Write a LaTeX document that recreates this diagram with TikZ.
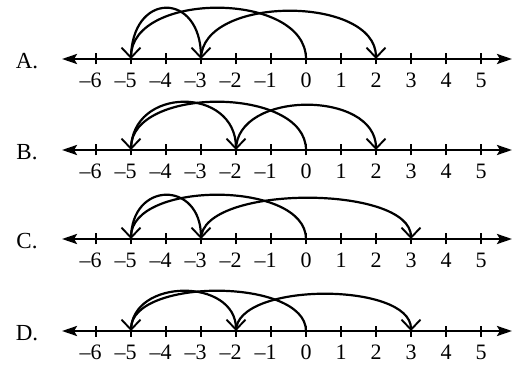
\documentclass[tikz,border=0pt]{standalone}
\usepackage{fontspec}
\setmainfont{Liberation Serif}
\usetikzlibrary{arrows.meta, calc}

\begin{document}
\begin{tikzpicture}[
    x=1pt, y=1pt,
    axis/.style={line width=2.6pt, {Stealth[length=15pt, width=10pt, inset=3pt]}-{Stealth[length=15pt, width=10pt, inset=3pt]}},
    tick/.style={line width=1.6pt},
    num/.style={font=\fontsize{22}{22}\selectfont, inner sep=0pt},
    opt/.style={font=\fontsize{23}{23}\selectfont, inner sep=0pt},
    jump/.style={line width=2.2pt, -{Straight Barb[length=10pt, width=19pt, line width=1.9pt]}},
]
    \useasboundingbox (0,0) rectangle (516,372);
    % one number line per option: row, axis height, 2nd and 3rd landing, arc height
    \foreach \r/\y/\p/\q/\h in {A/313/-3/2/51, B/222/-2/2/48, C/133/-3/3/44, D/41/-2/3/40} {
        \node[opt] (\r lab) at (27,\y-2) {\r.};
        \coordinate (\r L) at (62,\y);
        \coordinate (\r R) at (512,\y);
        \draw[axis] (\r L) -- (\r R);
        \foreach \n in {-6,...,5} {
            \coordinate (\r\n) at (306+35*\n,\y);
            \draw[tick] ([yshift=-5.5pt]\r\n) -- ([yshift=5.5pt]\r\n);
        }
        \foreach \n [evaluate=\n as \m using int(-\n)] in {-6,...,-1}
            \node[num] (\r\n num) at ([yshift=-21pt]\r\n) {\llap{\textendash}\m};
        \foreach \n in {0,...,5}
            \node[num] (\r\n num) at ([yshift=-21pt]\r\n) {\n};
        % the three jumps
        \draw[jump] (\r0) .. controls +(0,{\h*4/3}) and +(0,{\h*4/3}) .. (\r-5);
        \draw[jump] (\r-5) .. controls +(0,{\h*4/3}) and +(0,{\h*4/3}) .. (\r\p);
        \draw[jump] (\r\p) .. controls +(0,{(\h-3)*4/3}) and +(0,{(\h-3)*4/3}) .. (\r\q);
    }
\end{tikzpicture}
\end{document}
